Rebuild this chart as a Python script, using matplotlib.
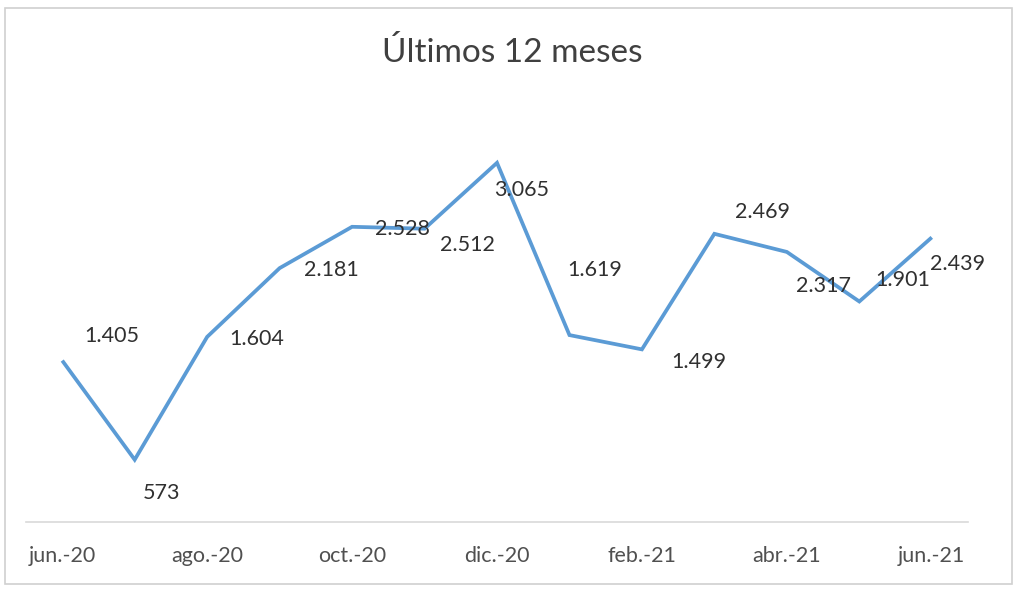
import matplotlib
matplotlib.use("Agg")
import matplotlib.pyplot as plt
from matplotlib.patches import Rectangle

months = ["jun.-20", "jul.-20", "ago.-20", "sep.-20", "oct.-20", "nov.-20", "dic.-20",
          "ene.-21", "feb.-21", "mar.-21", "abr.-21", "may.-21", "jun.-21"]
values = [1405, 573, 1604, 2181, 2528, 2512, 3065, 1619, 1499, 2469, 2317, 1901, 2439]
title = "Últimos 12 meses"

# label offsets (pixels) mimicking Excel placement
label_offsets = [(50, 25), (27, -33), (50, -2), (52, -2), (50, -2), (43, -16), (25, -27),
                 (25, 65), (57, -13), (48, 22), (37, -34), (43, 21), (26, -27)]

plt.rcParams['font.family'] = ['Lato', 'DejaVu Sans']

W, H = 1024, 592
fig = plt.figure(figsize=(W / 100, H / 100), dpi=100)
fig.patch.set_facecolor("white")

# outer chart border
fig.patches.append(Rectangle((5 / W, 1 - 584 / H), 1007 / W, 576 / H, transform=fig.transFigure,
                             fill=False, edgecolor="#d0d0d0", linewidth=1.2))

left, right = 26 / W, 968 / W
top_px, bot_px = 111, 522
ax = fig.add_axes([left, 1 - bot_px / H, right - left, (bot_px - top_px) / H])

x = list(range(len(values)))
ax.plot(x, values, color="#5B9BD5", linewidth=2.7, solid_joinstyle="miter", solid_capstyle="butt")

for xi, v, off in zip(x, values, label_offsets):
    ax.annotate(f"{v:,}".replace(",", "."), (xi, v), xytext=off, textcoords="offset pixels",
                ha="center", va="center", fontsize=15.5, color="#303030")

ax.set_xlim(-0.5, len(values) - 0.5)
ax.set_ylim(50, 3500)
ax.set_xticks(x[::2])
ax.set_xticklabels(months[::2], fontsize=15.5, color="#505050")
ax.tick_params(axis="x", length=0, pad=17)
ax.set_yticks([])
for s in ["top", "left", "right"]:
    ax.spines[s].set_visible(False)
ax.spines["bottom"].set_color("#d9d9d9")
ax.spines["bottom"].set_linewidth(1.2)
ax.set_facecolor("none")

fig.text(0.5, 1 - 52 / H, title, ha="center", va="center", fontsize=24, color="#404040")

fig.savefig("out.png", dpi=100, facecolor="white")
